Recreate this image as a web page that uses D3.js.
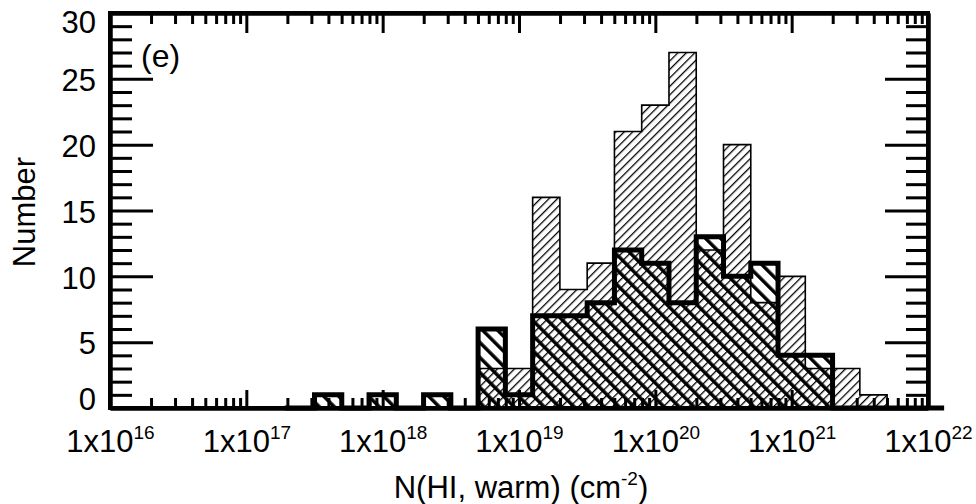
<!DOCTYPE html>
<html>
<head>
<meta charset="utf-8">
<script src="https://cdn.jsdelivr.net/npm/d3@7"></script>
<style>
  body { margin: 0; background: #fff; }
  text { font-family: "Liberation Sans", Arial, Helvetica, sans-serif; fill: #000; }
</style>
</head>
<body>
<div id="chart"></div>
<script>
// bin left edges, log10 N(HI) (bins are 0.2 dex wide)
const binLeft = [17.3, 17.5, 17.7, 17.9, 18.1, 18.3, 18.5, 18.7, 18.9, 19.1, 19.3, 19.5,
                 19.7, 19.9, 20.1, 20.3, 20.5, 20.7, 20.9, 21.1, 21.3, 21.5, 21.7, 21.9, 22.1];
// thin-outline histogram (/// hatch)
const countsThin  = [0, 0, 0, 0, 0, 0, 0, 3, 3, 16, 9, 11, 21, 23, 27, 12, 20, 8, 10, 3, 3, 1, 0, 0];
// thick-outline histogram (\\\ hatch)
const countsThick = [0, 1, 0, 1, 0, 1, 0, 6, 1, 7, 7, 8, 12, 11, 8, 13, 10, 11, 4, 4, 0, 0, 0, 0];

const yMajor = [0, 5, 10, 15, 20, 25, 30];
const xMajor = [1e16, 1e17, 1e18, 1e19, 1e20, 1e21, 1e22];

const W = 976, H = 504;
const FS = 31, FSUP = 19;
const svg = d3.select('#chart').append('svg')
    .attr('width', W)
    .attr('height', H);

const x = d3.scaleLog().domain([1e16, 1e22]).range([110, 928]);
const y = d3.scaleLinear().domain([0, 30]).range([408, 13]);

// hatch patterns
const defs = svg.append('defs');
defs.append('pattern')
    .attr('id', 'hatchThin')
    .attr('patternUnits', 'userSpaceOnUse')
    .attr('width', 6).attr('height', 6)
    .attr('patternTransform', 'rotate(45)')
  .append('rect')
    .attr('width', 1.3).attr('height', 6).attr('fill', '#000');
defs.append('pattern')
    .attr('id', 'hatchThick')
    .attr('patternUnits', 'userSpaceOnUse')
    .attr('width', 10.6).attr('height', 10.6)
    .attr('patternTransform', 'rotate(-45)')
  .append('rect')
    .attr('width', 3.5).attr('height', 10.6).attr('fill', '#000');

// step outline of a histogram, IDL psym=10 style
function stepPoints(counts) {
    const pts = [];
    counts.forEach((c, i) => {
        pts.push([x(Math.pow(10, binLeft[i])), y(c)]);
        pts.push([x(Math.pow(10, binLeft[i + 1])), y(c)]);
    });
    return pts;
}

function drawHist(counts, pattern, strokeW) {
    const pts = stepPoints(counts);
    const area = d3.area().x(d => d[0]).y0(y(0)).y1(d => d[1]);
    const line = d3.line().x(d => d[0]).y(d => d[1]);
    svg.append('path')
        .attr('d', area(pts))
        .attr('fill', 'url(#' + pattern + ')');
    svg.append('path')
        .attr('d', line(pts))
        .attr('fill', 'none')
        .attr('stroke', '#000')
        .attr('stroke-width', strokeW)
        .attr('stroke-linejoin', 'miter')
        .attr('stroke-linecap', 'square');
}

drawHist(countsThin, 'hatchThin', 1.6);
drawHist(countsThick, 'hatchThick', 5);

// axes: ticks point inwards
const xMinor = x.ticks().filter(v => !xMajor.includes(v));
const yMinor = d3.range(0, 31).filter(v => !yMajor.includes(v));

function styleAxis(g) {
    g.select('.domain').attr('stroke-width', 4);
    g.selectAll('.tick line').attr('stroke-width', 3);
}

// bottom
svg.append('g').attr('transform', 'translate(0,408)')
    .call(d3.axisBottom(x).tickValues(xMinor).tickSizeInner(-10).tickSizeOuter(0).tickFormat(''))
    .call(styleAxis);
const xb = svg.append('g').attr('transform', 'translate(0,408)')
    .call(d3.axisBottom(x).tickValues(xMajor).tickSizeInner(-18).tickSizeOuter(0).tickPadding(22))
    .call(styleAxis);
xb.selectAll('.tick text')
    .attr('font-size', FS)
    .text(null)
    .each(function(d) {
        const t = d3.select(this);
        t.append('tspan').text('1x10');
        t.append('tspan').attr('font-size', FSUP).attr('dy', '-0.7em').text(Math.round(Math.log10(d)));
    });

// top
svg.append('g').attr('transform', 'translate(0,13)')
    .call(d3.axisTop(x).tickValues(xMinor).tickSizeInner(-11).tickSizeOuter(0).tickFormat(''))
    .call(styleAxis);
svg.append('g').attr('transform', 'translate(0,13)')
    .call(d3.axisTop(x).tickValues(xMajor).tickSizeInner(-20).tickSizeOuter(0).tickFormat(''))
    .call(styleAxis);

// left
svg.append('g').attr('transform', 'translate(110,0)')
    .call(d3.axisLeft(y).tickValues(yMinor).tickSizeInner(-22).tickSizeOuter(0).tickFormat(''))
    .call(styleAxis);
const yl = svg.append('g').attr('transform', 'translate(110,0)')
    .call(d3.axisLeft(y).tickValues(yMajor).tickSizeInner(-43).tickSizeOuter(0).tickPadding(14))
    .call(styleAxis);
yl.selectAll('.tick text')
    .attr('font-size', FS)
    .attr('dy', d => d === 30 ? '0.62em' : d === 0 ? '0.05em' : '0.38em');

// right
svg.append('g').attr('transform', 'translate(928,0)')
    .call(d3.axisRight(y).tickValues(yMinor).tickSizeInner(-22).tickSizeOuter(0).tickFormat(''))
    .call(styleAxis);
svg.append('g').attr('transform', 'translate(928,0)')
    .call(d3.axisRight(y).tickValues(yMajor).tickSizeInner(-43).tickSizeOuter(0).tickFormat(''))
    .call(styleAxis);

// closed frame
svg.append('rect')
    .attr('x', 110).attr('y', 13).attr('width', 818).attr('height', 395)
    .attr('fill', 'none').attr('stroke', '#000').attr('stroke-width', 4);

// labels
svg.append('text')
    .attr('x', 141).attr('y', 67)
    .attr('font-size', 32)
    .text('(e)');

svg.append('text')
    .attr('transform', 'translate(35,212) rotate(-90)')
    .attr('text-anchor', 'middle')
    .attr('font-size', FS)
    .text('Number');

const xt = svg.append('text')
    .attr('x', 521).attr('y', 498)
    .attr('text-anchor', 'middle')
    .attr('font-size', FS);
xt.append('tspan').text('N(HI, warm) (cm');
xt.append('tspan').attr('font-size', FSUP).attr('dy', '-0.7em').text('-2');
xt.append('tspan').attr('dy', '0.43em').text(')');
</script>
</body>
</html>
